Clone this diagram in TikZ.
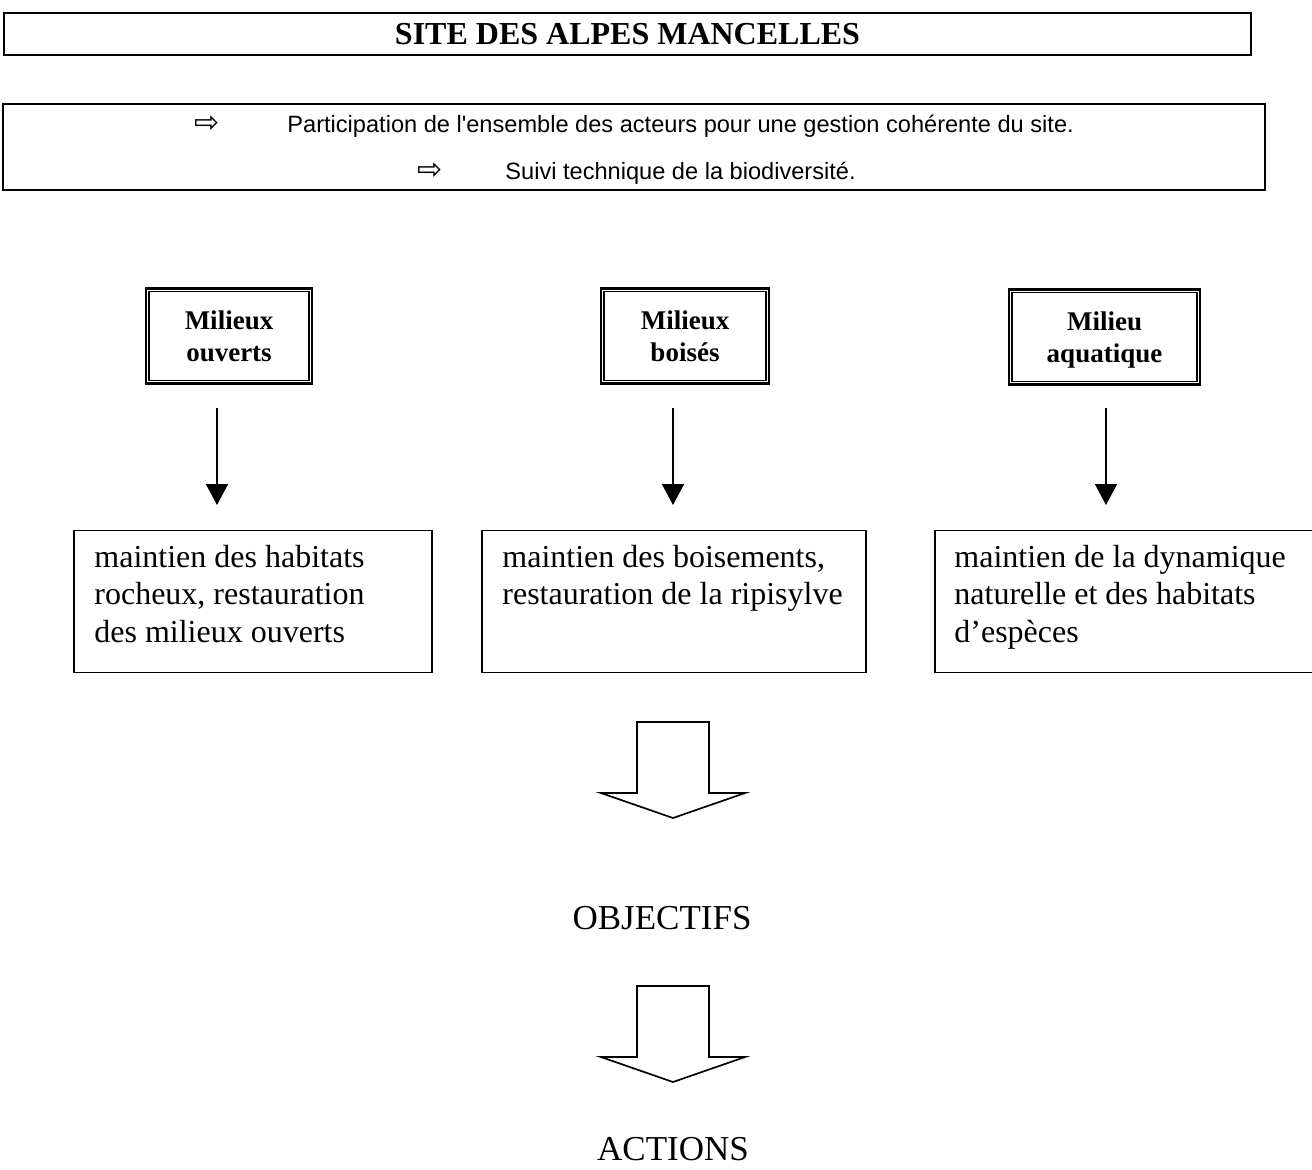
\documentclass[tikz,border=0pt]{standalone}
\usepackage{fontspec}
\setmainfont{Liberation Serif}
\newfontfamily\arialfont{Liberation Sans}
\newfontfamily\symbfont{DejaVu Sans}
\usetikzlibrary{arrows.meta}

\begin{document}
\begin{tikzpicture}[x=0.5pt, y=-0.5pt,
  cadre/.style={draw, line width=1pt, inner sep=0pt},
  milieu/.style={draw, line width=1.3pt, inner sep=0pt, align=center,
    minimum height=47.5pt, font=\fontsize{13.5}{16}\selectfont\bfseries},
  enjeu/.style={draw, line width=0.85pt, inner sep=0pt, minimum height=71pt},
  enjeutxt/.style={inner sep=0pt, text width=175pt, align=flush left,
    font=\fontsize{16}{18.75}\selectfont},
  puce/.style={inner sep=0pt, font=\symbfont\fontsize{15}{18}\selectfont},
  sanstxt/.style={inner sep=0pt, font=\arialfont\fontsize{11.8}{14}\selectfont},
  grandtxt/.style={inner sep=0pt, font=\fontsize{17.5}{21}\selectfont},
  fleche/.style={line width=0.85pt, -{Triangle[width=11pt,length=10.5pt]}},
  bloc/.style={line width=0.85pt, fill=white}]
  \useasboundingbox (0,0) rectangle (1312,1169);

  \node[cadre, minimum width=623.5pt, minimum height=21pt] (titre) at (627.5,34)
    {\fontsize{16}{19}\selectfont\bfseries SITE DES ALPES MANCELLES};

  \node[cadre, minimum width=631pt, minimum height=43pt] (enjeux) at (634,147) {};
  \node[puce, anchor=base] (p1) at (207,132) {⇨};
  \node[sanstxt, anchor=base west] (s1) at (287,132)
    {Participation de l'ensemble des acteurs pour une gestion cohérente du site.};
  \node[puce, anchor=base] (p2) at (430,179) {⇨};
  \node[sanstxt, anchor=base west] (s2) at (505,179) {Suivi technique de la biodiversité.};

  \node[milieu, minimum width=83pt] (m1) at (229,336) {Milieux\\ouverts};
  \node[milieu, minimum width=84pt] (m2) at (685,336) {Milieux\\boisés};
  \node[milieu, minimum width=95.5pt] (m3) at (1104.5,337)
    {Milieu\\\raisebox{0pt}[\height][0pt]{aquatique}};
  \foreach \m in {m1,m2,m3}
    \draw[line width=0.8pt] ([shift={(2.1pt,-2.1pt)}]\m.north west)
      rectangle ([shift={(-2.1pt,2.1pt)}]\m.south east);

  \coordinate (f1a) at (217,408);  \coordinate (f1b) at (217,505);
  \coordinate (f2a) at (673,408);  \coordinate (f2b) at (673,505);
  \coordinate (f3a) at (1106,408); \coordinate (f3b) at (1106,505);
  \draw[fleche] (f1a) -- (f1b);
  \draw[fleche] (f2a) -- (f2b);
  \draw[fleche] (f3a) -- (f3b);

  \node[enjeu, minimum width=179pt] (o1) at (253,601.5) {};
  \node[enjeu, minimum width=192pt] (o2) at (674,601.5) {};
  \node[enjeu, minimum width=189.5pt] (o3) at (1124.5,601.5) {};
  \node[enjeutxt, anchor=base west] (t1) at (94,567)
    {maintien des habitats\\rocheux, restauration\\des milieux ouverts};
  \node[enjeutxt, anchor=base west] (t2) at (502,567)
    {maintien des boisements,\\restauration de la ripisylve};
  \node[enjeutxt, anchor=base west] (t3) at (954,567)
    {maintien de la dynamique\\naturelle et des habitats\\d’espèces};

  \foreach \y in {722,986}
    \draw[bloc] (637,\y) -- (709,\y) -- (709,\y+71) -- (745,\y+71)
      -- (673,\y+96) -- (601,\y+71) -- (637,\y+71) -- cycle;

  \node[grandtxt, anchor=base] (objectifs) at (662,929) {OBJECTIFS};
  \node[grandtxt, anchor=base] (actions) at (673,1160) {ACTIONS};
\end{tikzpicture}
\end{document}
